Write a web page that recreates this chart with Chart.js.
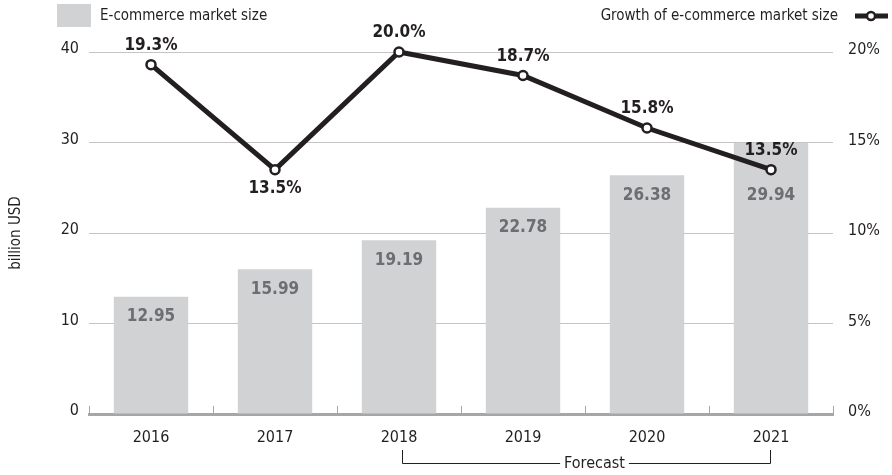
<!DOCTYPE html>
<html>
<head>
<meta charset="utf-8">
<script src="https://cdn.jsdelivr.net/npm/chart.js@4/dist/chart.umd.min.js"></script>
<style>
  html, body { margin: 0; padding: 0; background: #fff; }
  #wrap { width: 892px; height: 475px; position: relative; }
</style>
</head>
<body>
<div id="wrap"><canvas id="chart"></canvas></div>
<script>
// data
const years = ['2016', '2017', '2018', '2019', '2020', '2021'];
const marketSize = [12.95, 15.99, 19.19, 22.78, 26.38, 29.94];
const growth = [19.3, 13.5, 20.0, 18.7, 15.8, 13.5];
const growthLabelPos = ['top', 'bottom', 'top', 'top', 'top', 'top'];
const forecastFrom = '2018', forecastTo = '2021';

const FONT = '"Liberation Sans Narrow", "DejaVu Sans Condensed", "Roboto Condensed", sans-serif';
const BAR = '#d1d2d4';
const LINE = '#231f20';

const extras = {
  id: 'extras',
  afterDatasetsDraw(chart) {
    const ctx = chart.ctx;
    const x = chart.scales.x;
    const area = chart.chartArea;
    ctx.save();

    // small ticks on x axis at category boundaries
    ctx.strokeStyle = '#a6a6a6';
    ctx.lineWidth = 1;
    for (let i = 0; i <= years.length; i++) {
      const px = Math.round(x.getPixelForValue(i - 0.5)) + 0.5;
      ctx.beginPath();
      ctx.moveTo(px, area.bottom - 8);
      ctx.lineTo(px, area.bottom);
      ctx.stroke();
    }

    const lineMeta = chart.getDatasetMeta(0);
    const barMeta = chart.getDatasetMeta(1);

    // bar value labels, pushed below the line point when they would collide
    ctx.font = 'bold 17px ' + FONT;
    ctx.fillStyle = '#6d6e71';
    ctx.textAlign = 'center';
    ctx.textBaseline = 'middle';
    barMeta.data.forEach((el, i) => {
      let y = el.y + 20;
      const p = lineMeta.data[i];
      if (Math.abs(y - p.y) < 30) y = p.y + 26;
      ctx.fillText(marketSize[i].toFixed(2), el.x, y);
    });

    // growth labels
    ctx.fillStyle = LINE;
    lineMeta.data.forEach((el, i) => {
      const dy = growthLabelPos[i] === 'top' ? -19 : 19;
      ctx.fillText(growth[i].toFixed(1) + '%', el.x, el.y + dy);
    });

    // forecast bracket
    const x1 = Math.round(x.getPixelForValue(years.indexOf(forecastFrom))) + 3.5;
    const x2 = Math.round(x.getPixelForValue(years.indexOf(forecastTo))) - 0.5;
    const yTop = 450, yBot = 463.5;
    ctx.font = '16px ' + FONT;
    const label = 'Forecast';
    const tw = ctx.measureText(label).width;
    const cx = (x1 + x2) / 2 + 8;
    ctx.strokeStyle = '#231f20';
    ctx.lineWidth = 1;
    ctx.beginPath();
    ctx.moveTo(x1, yTop); ctx.lineTo(x1, yBot); ctx.lineTo(cx - tw / 2 - 4, yBot);
    ctx.moveTo(cx + tw / 2 + 4, yBot); ctx.lineTo(x2, yBot); ctx.lineTo(x2, yTop);
    ctx.stroke();
    ctx.fillStyle = '#231f20';
    ctx.fillText(label, cx, yBot);

    // legends
    ctx.fillStyle = BAR;
    ctx.fillRect(57, 4, 34, 23);
    ctx.fillStyle = '#231f20';
    ctx.font = '15px ' + FONT;
    ctx.textAlign = 'left';
    ctx.fillText('E-commerce market size', 100, 16);
    ctx.textAlign = 'right';
    ctx.fillText('Growth of e-commerce market size', 838, 16);
    ctx.strokeStyle = LINE;
    ctx.lineWidth = 5;
    ctx.beginPath();
    ctx.moveTo(855, 16); ctx.lineTo(888, 16);
    ctx.stroke();
    ctx.beginPath();
    ctx.arc(871, 16, 4, 0, Math.PI * 2);
    ctx.fillStyle = '#fff';
    ctx.fill();
    ctx.lineWidth = 2.5;
    ctx.stroke();

    ctx.restore();
  }
};

new Chart(document.getElementById('chart'), {
  data: {
    labels: years,
    datasets: [
      {
        type: 'line',
        label: 'Growth of e-commerce market size',
        data: growth,
        yAxisID: 'y2',
        order: 0,
        clip: false,
        borderColor: LINE,
        borderWidth: 5,
        pointRadius: 4.5,
        pointBackgroundColor: '#fff',
        pointBorderColor: LINE,
        pointBorderWidth: 2.5,
        tension: 0
      },
      {
        type: 'bar',
        label: 'E-commerce market size',
        data: marketSize,
        yAxisID: 'y',
        order: 1,
        backgroundColor: BAR,
        barPercentage: 1,
        categoryPercentage: 0.6
      }
    ]
  },
  options: {
    responsive: true,
    maintainAspectRatio: false,
    animation: false,
    layout: { padding: { top: 52, left: 0, right: 0, bottom: 0 } },
    plugins: { legend: { display: false }, tooltip: { enabled: false } },
    scales: {
      x: {
        offset: true,
        grid: { display: false, drawTicks: false },
        border: { display: true, color: '#a6a6a6', width: 3 },
        ticks: { padding: 14, color: '#231f20', font: { family: FONT, size: 16 } },
        afterFit(s) { s.height = 61; }
      },
      y: {
        position: 'left',
        min: 0, max: 40,
        ticks: { stepSize: 10, padding: 10, labelOffset: -3, color: '#231f20', font: { family: FONT, size: 16 } },
        grid: { color: '#c4c4c4', lineWidth: 1, drawTicks: false },
        border: { display: false },
        title: { display: true, text: 'billion USD', color: '#231f20', font: { family: FONT, size: 15 }, padding: { top: 7, bottom: 0 } },
        afterFit(s) { s.width = 89; }
      },
      y2: {
        position: 'right',
        min: 0, max: 20,
        ticks: { stepSize: 5, padding: 15, labelOffset: -2, color: '#231f20', font: { family: FONT, size: 16 }, callback: v => v + '%' },
        grid: { display: false, drawTicks: false },
        border: { display: false },
        afterFit(s) { s.width = 59; }
      }
    }
  },
  plugins: [extras]
});
</script>
</body>
</html>
